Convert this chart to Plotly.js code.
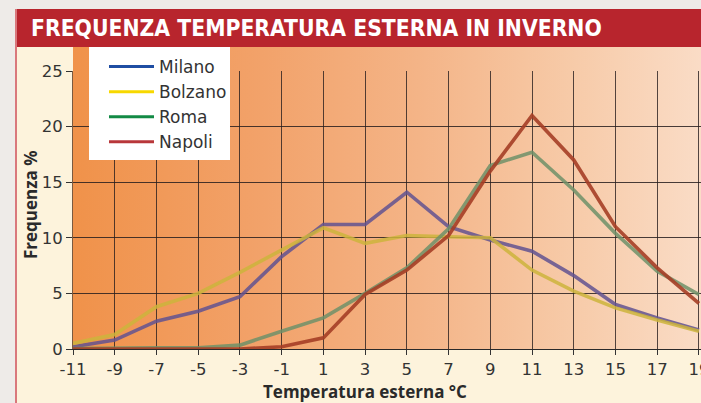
<!DOCTYPE html>
<html>
<head>
<meta charset="utf-8">
<script src="https://cdn.plot.ly/plotly-3.0.1.min.js"></script>
<style>
html,body{margin:0;padding:0;background:#eeebe8;}
#chart{width:701px;height:403px;}
</style>
</head>
<body>
<div id="chart"></div>
<script>
const temperature = [-11,-9,-7,-5,-3,-1,1,3,5,7,9,11,13,15,17,19];
const tickLabels = ['-11','-9','-7','-5','-3','-1','1','3','5','7','9','11','13','15','17','19'];
const milano  = [0.2,0.8,2.5,3.4,4.7,8.3,11.2,11.2,14.1,11.0,9.8,8.8,6.6,4.0,2.8,1.7];
const bolzano = [0.5,1.3,3.8,5.0,6.9,8.9,10.9,9.5,10.2,10.1,10.0,7.1,5.2,3.7,2.6,1.6];
const roma    = [0.05,0.1,0.1,0.1,0.35,1.6,2.8,5.0,7.3,10.8,16.5,17.7,14.3,10.4,7.0,4.9];
const napoli  = [0,0,0,0,0,0.2,1.0,4.9,7.1,10.2,16.0,21.0,17.0,11.0,7.3,4.1];
const cities = ['Milano','Bolzano','Roma','Napoli'];
const seriesValues = [milano, bolzano, roma, napoli];

const plotColors = ['rgba(98,82,145,0.85)','rgba(205,180,60,0.85)','rgba(110,145,105,0.85)','rgba(165,62,38,0.9)'];
const legendColors = ['#1f4ea3','#f7d800','#128a45','#b8373a'];

// gradient background for the plot area
const cv = document.createElement('canvas');
cv.width = 628; cv.height = 302;
const ctx = cv.getContext('2d');
const g = ctx.createLinearGradient(0,0,628,0);
g.addColorStop(0,'#f0924a');
g.addColorStop(0.3,'#f2a26a');
g.addColorStop(0.55,'#f4b487');
g.addColorStop(0.8,'#f7cba9');
g.addColorStop(1,'#fadcc6');
ctx.fillStyle = g;
ctx.fillRect(0,0,628,302);
const bgUrl = cv.toDataURL('image/png');

const traces = [];
seriesValues.forEach((vals,i)=>{
  traces.push({x: temperature, y: vals, type:'scatter', mode:'lines', name: cities[i],
    showlegend:false, line:{color: plotColors[i], width:3.6}, hoverinfo:'skip'});
});
seriesValues.forEach((vals,i)=>{
  traces.push({x:[null], y:[null], type:'scatter', mode:'lines', name: cities[i],
    showlegend:true, line:{color: legendColors[i], width:3}});
});

const L = 73, R = 701, T = 71, B = 349;
const px = v => (v - L)/(R - L);
const py = v => (B - v)/(B - T);

const layout = {
  width:701, height:403,
  margin:{l:73, r:0, t:71, b:54, pad:0},
  paper_bgcolor:'#fdf3dc',
  plot_bgcolor:'rgba(0,0,0,0)',
  title:{text:'FREQUENZA TEMPERATURA ESTERNA IN INVERNO',
    font:{family:'"DejaVu Sans Condensed", "Liberation Sans Narrow", sans-serif', size:22.7, color:'#ffffff', weight:'bold'},
    x:31/701, xref:'container', xanchor:'left', y:1-28/403, yref:'container', yanchor:'middle'},
  xaxis:{range:[-11,19.1], tickmode:'array', tickvals: temperature, ticktext: tickLabels,
    showgrid:true, gridcolor:'rgba(40,30,30,0.8)', gridwidth:1, zeroline:false,
    showline:true, linecolor:'#2a2a2a', linewidth:1, ticklabeloverflow:'allow',
    ticks:'outside', ticklen:5, tickcolor:'#333', tickwidth:1,
    tickfont:{family:'"DejaVu Sans", sans-serif', size:16.5, color:'#333'}, fixedrange:true},
  yaxis:{range:[0,25], tickvals:[0,5,10,15,20,25], ticktext:['0','5','10','15','20','25'],
    showgrid:true, gridcolor:'rgba(40,30,30,0.85)', gridwidth:1, zeroline:false,
    showline:true, linecolor:'#7a5a40', linewidth:1,
    ticks:'outside', ticklen:6, tickcolor:'#333', tickwidth:1,
    tickfont:{family:'"DejaVu Sans", sans-serif', size:16.5, color:'#333'}, fixedrange:true},
  legend:{x:px(104), y:py(49), xanchor:'left', yanchor:'top', bgcolor:'rgba(0,0,0,0)', borderwidth:0,
    font:{family:'"DejaVu Sans", sans-serif', size:17, color:'#333'}, itemwidth:45,
    tracegroupgap:0},
  images:[{source:bgUrl, xref:'paper', yref:'paper', x:0, y:py(47), sizex:1, sizey:py(47),
    xanchor:'left', yanchor:'top', sizing:'stretch', layer:'below'}],
  shapes:[
    {type:'rect', xref:'paper', yref:'paper', x0:px(16), x1:px(701), y0:py(47), y1:py(9), fillcolor:'#b8252d', line:{width:0}, layer:'below'},
    {type:'rect', xref:'paper', yref:'paper', x0:px(0), x1:px(15), y0:py(403), y1:py(0), fillcolor:'#eeebe8', line:{width:0}, layer:'below'},
    {type:'rect', xref:'paper', yref:'paper', x0:px(0), x1:px(701), y0:py(9), y1:py(0), fillcolor:'#eeebe8', line:{width:0}, layer:'below'},
    {type:'rect', xref:'paper', yref:'paper', x0:px(15), x1:px(17), y0:py(403), y1:py(9), fillcolor:'#d9787c', line:{width:0}, layer:'below'},
    {type:'rect', xref:'paper', yref:'paper', x0:px(89), x1:px(230), y0:py(160), y1:py(47), fillcolor:'#ffffff', line:{width:0}, layer:'above'}
  ],
  annotations:[
    {text:'Frequenza %', xref:'paper', yref:'paper', x:px(30), y:py(205), textangle:-90,
      showarrow:false, xanchor:'center', yanchor:'middle',
      font:{family:'"Open Sans", sans-serif', size:17, color:'#2a2a2a', weight:'bold'}},
    {text:'Temperatura esterna °C', xref:'paper', yref:'paper', x:px(365), y:py(391),
      showarrow:false, xanchor:'center', yanchor:'middle',
      font:{family:'"Open Sans", sans-serif', size:17, color:'#2a2a2a', weight:'bold'}}
  ]
};

Plotly.newPlot('chart', traces, layout, {displayModeBar:false, staticPlot:true});
</script>
</body>
</html>
